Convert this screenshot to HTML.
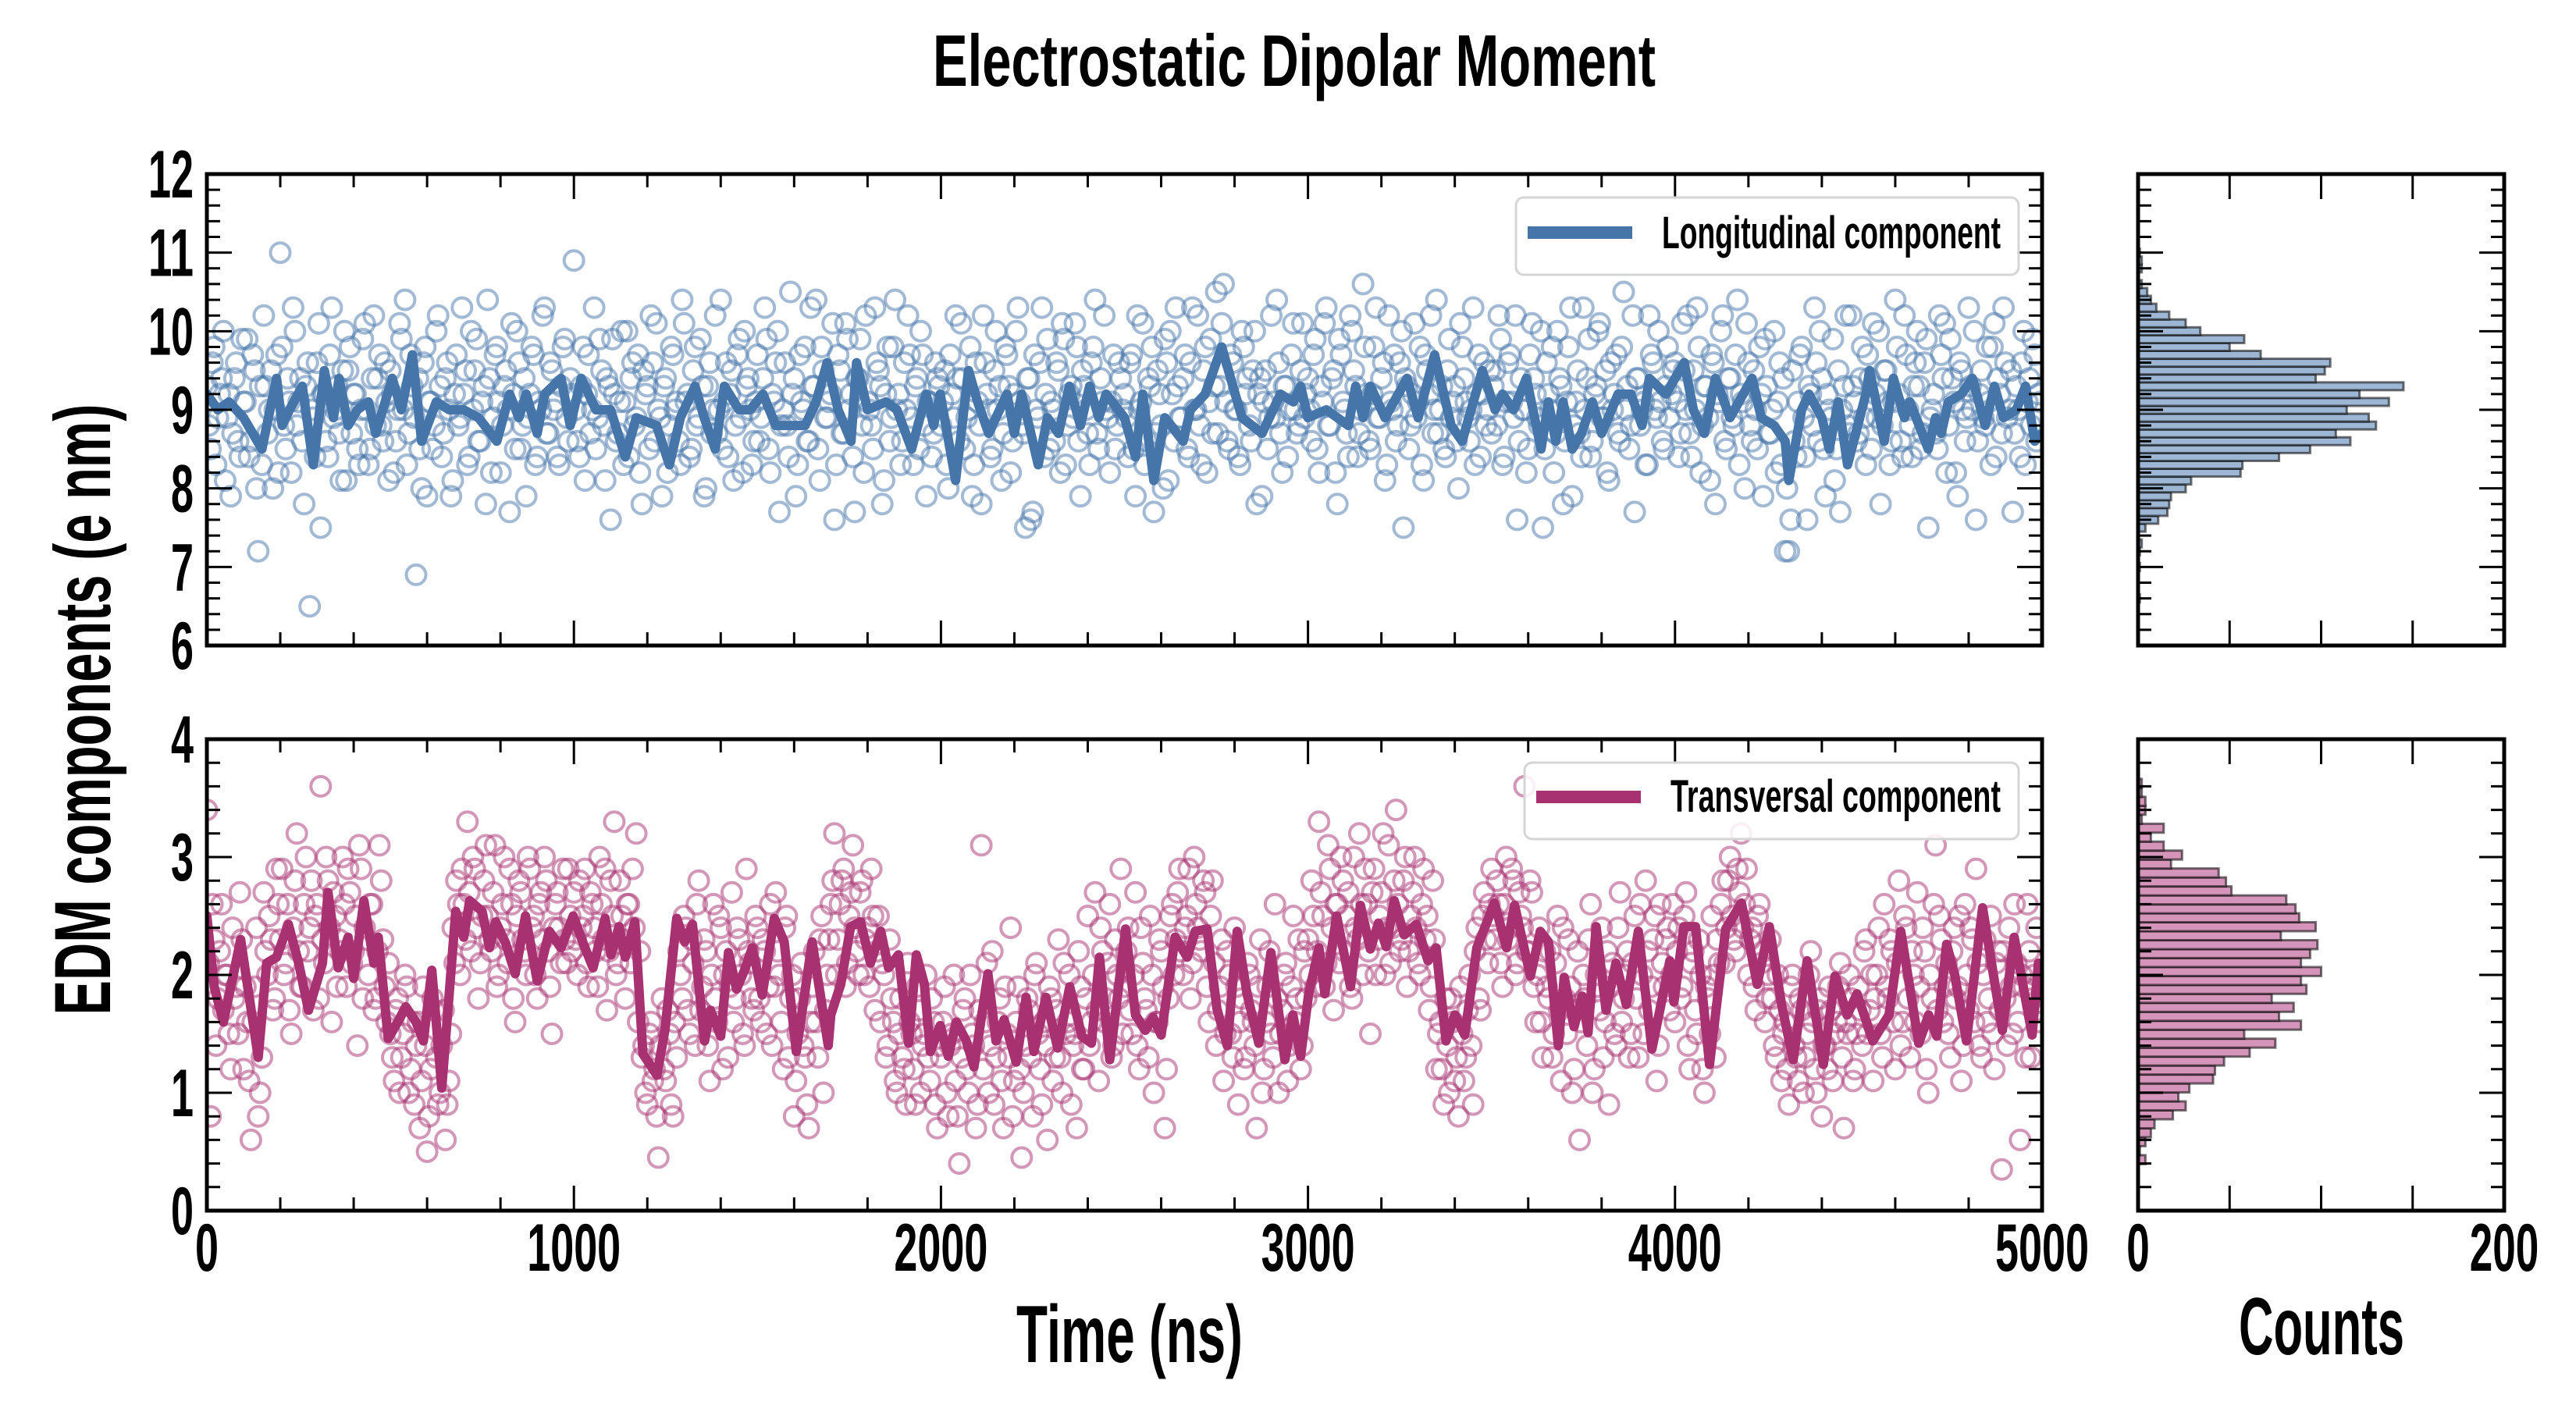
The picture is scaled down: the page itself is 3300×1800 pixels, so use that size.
<!DOCTYPE html>
<html><head><meta charset="utf-8"><title>Electrostatic Dipolar Moment</title>
<style>html,body{margin:0;padding:0;background:#fff;}svg{display:block;}
text{font-family:"Liberation Sans Narrow","Liberation Sans","DejaVu Sans Condensed",sans-serif;font-weight:bold;fill:#000;}</style>
</head><body>
<svg id="chart" xmlns="http://www.w3.org/2000/svg" width="3300" height="1800" viewBox="0 0 3300 1800">
<rect x="0" y="0" width="3300" height="1800" fill="#fff"/>
<defs>
<clipPath id="clipTop"><rect x="265" y="223" width="2351" height="604"/></clipPath>
<clipPath id="clipBot"><rect x="265" y="947" width="2351" height="604"/></clipPath>
</defs>
<g id="layer"></g>
</svg>
<script>
// ---------- data ----------
const timeMax = 5000;
const scatterStep = 10;
const scatterOffset2 = 5;
const longScatter = [
9.3,8.5,9.8,8.9,9.4,8.1,9.2,8.7,9.6,8.4,9.1,9.9,8.6,9.5,7.2,8.3,9.3,9.0,8.0,9.7,11.0,8.8,9.4,8.2,10.0,9.1,8.6,9.3,6.5,8.9,9.6,7.5,9.2,8.4,10.3,9.0,8.7,9.5,8.1,9.8,9.2,8.5,9.0,10.1,8.3,9.4,8.8,9.7,8.6,9.1,
9.5,8.2,9.0,9.9,10.4,8.7,9.3,6.9,8.5,9.6,7.9,9.1,8.8,10.2,8.4,9.4,9.0,8.1,9.7,8.9,9.2,8.3,10.0,9.5,8.6,9.1,7.8,9.4,8.9,9.8,8.2,9.3,9.0,10.1,8.5,9.6,8.8,7.9,9.2,9.7,8.4,9.0,10.3,8.7,9.5,9.1,8.3,9.8,8.9,9.4,
10.9,8.6,9.3,8.1,9.7,9.0,8.5,9.9,8.8,9.4,7.6,9.2,8.7,10.0,9.1,8.4,9.6,8.9,8.2,9.5,9.3,10.2,8.6,9.0,7.9,9.4,8.8,9.7,9.1,8.3,10.1,9.2,8.5,9.8,8.9,9.3,8.0,9.6,9.0,8.7,10.4,9.1,8.4,9.5,8.8,9.9,8.2,9.3,9.0,8.6,
9.7,8.9,10.3,8.5,9.2,9.6,7.7,9.0,8.8,10.5,9.4,8.3,9.1,9.8,8.6,9.3,10.4,8.1,9.5,8.9,9.2,7.6,9.7,8.7,10.1,9.0,8.4,9.4,9.9,8.2,9.1,8.8,10.3,9.5,7.8,9.2,8.6,9.8,9.0,8.3,9.6,10.2,8.9,9.3,8.5,9.7,7.9,9.1,8.7,9.4,
8.8,9.5,8.0,9.2,10.2,8.6,9.4,8.9,9.8,8.3,9.1,7.8,9.6,9.0,8.5,10.0,9.3,8.7,9.7,8.2,9.2,10.3,8.8,7.5,9.4,7.7,9.0,9.6,8.4,9.9,9.1,8.6,9.5,10.1,8.3,9.2,8.9,9.8,7.9,9.3,8.7,9.6,10.4,8.5,9.1,9.0,8.2,9.7,8.8,9.4,
9.2,8.4,9.7,7.9,9.0,10.1,8.6,9.3,7.7,9.5,8.8,9.9,8.1,9.2,10.3,8.9,9.4,8.5,9.6,9.0,10.2,8.3,9.8,9.1,8.7,10.5,9.3,10.6,8.6,9.7,9.0,8.4,10.0,9.2,8.8,9.5,7.8,9.4,9.1,8.5,10.2,8.9,9.6,8.2,9.3,9.0,10.1,8.7,9.5,8.9,
9.4,8.6,9.9,8.2,9.1,10.3,8.8,9.5,7.8,9.7,9.0,8.4,10.0,9.3,8.7,10.6,9.2,8.5,9.8,8.9,9.4,8.1,10.2,9.0,8.6,9.6,7.5,9.3,8.8,10.1,9.1,8.3,9.7,9.2,8.7,10.4,9.0,8.5,9.5,8.9,9.3,8.0,9.8,9.1,8.6,10.3,9.2,8.4,9.6,9.0,
8.7,9.5,10.2,8.3,9.1,9.7,8.9,7.6,9.4,9.0,8.5,10.1,9.2,8.8,7.5,9.6,9.0,8.2,10.0,9.3,8.6,9.8,7.9,9.1,8.7,10.3,9.4,8.4,9.2,10.0,8.9,9.5,8.1,9.0,9.7,8.6,10.5,9.3,8.8,7.7,9.4,9.0,8.3,10.2,9.6,8.9,9.1,8.5,9.8,9.2,
9.6,8.4,10.1,9.0,8.7,9.5,10.3,8.2,9.3,8.9,9.7,7.8,9.1,10.2,8.5,9.4,8.8,10.4,9.2,8.0,9.6,8.6,9.0,9.8,7.9,9.3,8.7,10.0,9.1,8.3,7.2,7.2,9.5,8.4,9.7,8.9,7.6,9.2,10.3,8.6,9.4,7.9,9.0,9.9,8.5,7.7,9.3,8.8,10.2,9.1,
8.7,9.8,8.3,9.4,10.1,8.9,7.8,9.5,9.1,8.6,10.4,9.2,8.4,9.7,8.8,9.3,10.0,8.5,9.6,7.5,9.0,8.7,10.2,9.4,8.2,9.9,9.1,7.9,9.5,8.6,10.3,9.0,7.6,9.2,8.9,9.8,8.3,10.1,9.4,8.7,9.6,9.0,7.7,9.3,8.4,10.0,9.1,8.8,9.7,9.2];
const longScatter2 = [
8.8,9.6,8.3,9.2,10.0,8.9,7.9,9.4,8.6,9.9,9.1,8.4,9.7,8.0,9.3,10.2,8.7,9.5,9.0,8.2,9.8,8.5,9.1,10.3,8.8,9.4,7.8,9.6,9.0,8.4,10.1,9.2,8.6,9.7,8.9,9.3,8.1,10.0,9.5,8.7,9.2,8.3,9.9,9.0,8.5,10.2,9.4,8.8,9.6,8.1,
9.2,8.6,10.1,9.0,8.3,9.7,8.9,9.4,8.0,9.8,9.1,8.5,10.0,9.3,8.7,9.6,7.9,9.2,8.8,10.3,9.5,8.4,9.0,9.9,8.6,9.3,10.4,8.2,9.7,9.1,8.8,9.5,7.7,9.2,10.0,8.5,9.4,8.9,9.8,8.3,9.1,10.2,8.7,9.6,9.0,8.4,9.3,9.9,8.6,9.2,
9.0,8.4,9.8,9.2,8.7,10.3,8.9,9.5,8.1,9.3,9.9,8.6,9.1,8.3,10.0,9.4,8.8,9.7,7.8,9.2,8.5,9.6,10.1,8.9,9.3,8.2,9.8,9.0,8.6,10.4,9.1,8.4,9.5,8.8,9.9,7.9,9.3,8.7,10.2,9.0,8.5,9.6,9.2,8.1,9.7,8.9,10.0,9.4,8.3,9.1,
8.6,9.4,9.9,8.2,9.1,10.0,8.8,9.6,8.4,9.2,7.9,9.7,9.0,8.6,10.3,9.3,8.5,9.8,8.9,9.1,10.1,8.3,9.5,8.7,9.9,9.2,7.7,9.4,8.8,10.2,9.0,8.5,9.6,9.3,8.1,9.8,8.9,10.4,9.2,8.6,9.0,9.7,8.3,9.4,10.0,8.8,9.1,8.4,9.6,9.3,
9.1,8.3,9.7,8.9,9.4,10.1,8.5,9.0,7.9,9.6,8.8,10.2,9.2,8.4,9.5,9.0,8.1,9.8,9.3,8.6,10.0,9.1,8.7,9.4,7.6,9.7,8.9,10.3,9.2,8.5,9.0,9.6,8.2,9.9,8.8,9.3,10.1,8.6,9.5,9.0,8.3,9.8,8.7,9.4,10.2,8.9,9.1,8.5,9.6,9.0,
8.9,9.6,8.5,10.2,9.1,8.3,9.4,9.8,8.7,9.2,8.0,9.6,10.0,8.6,9.3,8.9,9.7,8.4,10.3,9.0,8.8,9.5,8.2,9.9,9.3,8.7,10.1,9.1,8.5,9.6,9.0,8.3,9.8,9.4,8.6,10.0,9.2,7.9,9.5,8.9,9.1,10.4,8.7,9.3,8.4,9.7,9.0,8.8,10.1,9.2,
9.0,9.7,8.5,9.3,10.1,8.8,9.4,8.2,9.9,9.1,8.7,10.2,9.5,8.4,9.0,9.8,8.6,9.2,10.3,8.9,9.6,8.3,9.1,9.7,8.8,10.0,9.4,8.5,9.2,8.9,9.8,8.1,9.5,10.2,9.0,8.7,9.3,8.4,9.9,9.1,8.6,10.1,9.4,8.9,9.0,8.3,9.7,9.2,8.8,9.5,
9.3,8.8,9.9,8.4,9.6,9.1,10.2,8.6,9.0,8.2,9.7,9.4,8.9,10.0,8.5,9.2,9.8,8.7,9.4,7.8,9.1,10.3,8.8,9.5,8.4,9.0,9.9,8.6,9.3,10.1,8.9,8.2,9.6,9.2,8.7,9.8,9.0,8.5,10.2,9.4,8.8,9.1,8.3,9.7,9.0,10.0,8.6,9.3,8.9,9.5,
9.1,8.7,9.5,10.2,8.4,9.0,9.8,8.8,9.3,8.1,9.6,9.2,10.0,8.6,9.4,8.9,9.7,8.3,9.1,10.1,8.8,9.5,8.5,9.2,9.9,8.7,9.0,8.2,9.6,9.4,8.0,7.6,8.6,9.1,9.8,8.4,9.3,8.8,9.6,10.0,8.5,9.2,8.9,8.1,9.5,9.0,10.2,8.7,9.3,8.6,
9.4,8.9,9.7,8.5,9.2,10.0,8.8,9.5,8.3,9.1,9.8,8.6,10.2,9.0,8.4,9.6,9.3,8.7,9.9,8.9,9.2,8.5,9.7,10.1,8.8,9.4,8.2,9.6,9.0,8.9,9.3,10.0,8.6,9.5,8.8,9.1,9.8,8.4,9.2,10.3,8.9,9.5,8.7,9.0,9.6,8.3,9.4,9.9,8.6,9.1];
const transScatter = [
3.4,0.8,2.3,1.8,2.6,2.0,1.5,2.4,1.9,2.7,1.2,1.6,0.6,1.9,0.8,1.3,2.2,2.5,1.7,2.9,2.3,2.0,2.6,1.5,2.8,2.2,1.9,3.0,2.4,1.7,2.6,3.6,2.1,2.8,1.6,2.5,2.3,3.0,1.9,2.7,2.2,1.4,2.9,2.4,2.0,2.6,1.8,3.1,2.3,1.6,
1.5,1.1,1.8,1.3,2.0,1.0,1.6,1.4,0.7,1.9,0.5,1.2,1.7,0.9,1.4,0.6,1.1,2.4,2.8,2.0,2.6,3.3,2.2,2.9,1.8,2.5,3.1,2.3,2.7,1.9,2.4,3.0,2.1,2.6,1.6,2.8,2.3,2.0,2.9,2.5,1.8,2.7,3.0,2.2,1.5,2.6,2.4,2.9,2.1,2.5,
2.7,2.0,2.4,2.9,1.9,2.6,2.2,3.0,2.3,1.7,2.8,3.3,2.1,2.5,1.8,2.6,2.9,3.2,2.2,1.4,0.9,1.6,1.2,0.45,1.8,1.1,1.5,0.8,1.3,2.0,2.5,1.7,2.3,1.4,2.8,1.9,2.2,1.1,2.6,1.6,2.4,2.0,1.3,2.7,1.8,2.3,1.5,2.9,2.1,1.7,
2.4,1.6,2.2,1.9,1.4,2.7,2.0,1.2,2.5,1.8,0.8,1.5,2.1,1.3,0.7,1.9,1.6,2.3,1.0,2.0,2.6,3.2,2.3,2.8,1.9,2.5,3.1,2.2,2.7,2.0,2.4,2.9,1.7,2.5,2.1,1.3,2.3,1.6,1.0,1.8,1.2,2.1,1.5,0.9,1.7,1.4,2.0,1.1,1.6,0.7,
1.3,1.9,0.8,1.5,1.1,0.4,1.7,1.2,2.0,1.4,0.9,3.1,1.6,1.0,2.2,1.3,1.8,0.7,1.5,2.4,1.1,1.9,0.45,1.4,1.7,0.8,2.1,1.2,1.6,0.6,1.8,1.3,2.3,1.0,1.5,2.0,1.4,0.7,1.9,1.2,2.5,1.6,2.7,1.1,2.2,1.8,2.6,1.4,2.0,2.9,
1.9,2.4,1.5,2.7,1.2,2.1,1.7,2.5,1.0,1.6,2.2,0.7,1.8,2.6,2.3,2.9,2.0,2.5,1.8,3.0,2.4,2.2,2.7,1.6,2.8,1.4,1.9,1.1,2.2,1.5,2.4,0.9,1.8,1.3,2.0,1.6,0.7,2.3,1.2,1.9,1.5,2.6,1.0,1.7,2.1,1.4,2.5,1.8,1.2,2.2,
2.3,2.8,1.9,3.3,2.5,2.1,2.9,1.7,2.6,3.0,2.2,2.7,1.8,2.4,3.2,2.0,2.6,1.5,2.9,2.3,2.7,2.0,3.1,2.4,3.4,2.2,2.8,1.9,2.5,3.0,2.1,2.6,2.3,1.7,2.8,1.2,1.6,0.9,1.4,1.8,1.1,0.8,1.5,1.3,2.0,0.9,2.4,1.7,2.7,2.1,
2.9,2.3,2.6,1.9,3.0,2.4,2.8,2.1,2.5,3.6,2.2,2.7,1.6,2.4,1.3,1.9,2.2,1.5,2.5,1.1,1.8,2.3,1.0,1.7,0.6,2.0,1.4,2.6,1.2,1.9,2.4,1.6,0.9,2.1,1.4,2.7,1.8,2.2,1.5,2.5,1.3,2.0,2.8,1.7,2.3,1.1,2.6,1.9,2.4,2.0,
1.6,2.4,1.9,2.7,1.2,2.2,1.5,2.0,1.0,1.8,2.5,1.3,2.1,2.8,2.4,3.0,2.3,2.9,3.2,2.6,2.0,2.4,1.7,2.6,2.2,1.8,2.3,1.4,2.0,1.1,1.6,0.9,2.0,1.3,1.8,1.0,1.5,2.2,1.2,1.7,0.8,1.4,1.9,1.1,1.6,2.1,0.7,1.5,1.8,1.2,
1.9,1.4,2.3,1.7,1.1,2.0,1.5,2.6,1.8,2.2,1.2,2.8,1.6,2.4,1.3,2.0,2.7,1.5,2.2,1.0,1.8,3.1,2.5,1.6,2.1,1.3,2.4,1.9,1.1,2.6,1.7,2.3,2.9,1.4,2.0,1.6,2.5,1.2,2.2,0.35,1.8,2.4,1.5,2.1,0.6,1.9,2.6,1.3,2.0,1.7];
const transScatter2 = [
2.1,2.6,1.4,2.2,1.7,2.0,1.2,1.8,1.5,2.3,1.9,1.1,1.6,2.4,1.0,2.7,2.0,2.3,1.8,2.6,2.9,2.1,1.7,2.4,3.2,1.9,2.6,2.2,2.8,2.5,1.8,2.3,3.0,2.4,2.7,1.9,2.2,2.6,2.9,2.1,2.5,3.1,1.8,2.3,2.6,1.7,2.2,2.8,1.9,2.1,
1.3,1.7,1.0,1.5,1.9,1.2,0.9,1.6,1.1,1.4,0.8,1.8,1.3,1.0,1.7,0.9,1.5,2.1,2.6,2.9,2.3,2.7,3.0,2.4,2.1,2.8,2.5,2.2,3.1,2.0,2.6,2.3,2.9,1.8,2.5,2.7,2.2,3.0,2.4,2.0,2.6,2.3,2.8,1.9,2.4,2.7,2.1,2.3,2.9,2.2,
2.3,2.8,2.5,2.1,2.7,2.4,1.9,2.6,2.9,2.2,2.5,2.0,2.8,2.3,2.6,2.1,2.4,1.6,1.3,1.0,1.5,1.1,0.8,1.4,1.2,1.7,0.9,1.6,2.2,1.8,2.4,1.5,2.1,2.6,1.7,2.3,1.4,2.0,1.8,2.5,1.2,2.2,1.9,1.6,2.4,2.0,1.4,2.2,1.8,2.5,
1.8,2.3,1.5,2.6,1.9,2.2,1.6,2.4,1.3,2.0,1.1,1.8,1.4,0.9,1.6,2.2,1.3,2.5,1.7,2.3,2.8,2.0,2.6,2.9,2.1,2.7,2.4,2.0,2.8,2.3,1.9,2.5,2.2,1.6,2.0,1.4,1.8,1.1,1.5,1.3,0.9,1.6,1.2,1.9,1.0,1.5,1.3,1.8,0.9,1.4,
1.6,1.0,1.4,2.0,0.8,1.3,1.8,1.0,1.5,0.7,1.7,1.2,2.1,1.4,0.9,1.6,1.1,1.9,1.3,0.8,1.6,1.2,1.0,1.8,1.3,2.0,1.5,0.9,1.4,1.9,1.1,1.7,1.3,2.1,1.6,0.9,1.5,2.2,1.2,1.8,1.4,2.0,1.7,2.4,1.6,2.1,1.3,2.3,1.8,1.5,
2.2,1.7,2.0,1.4,2.4,1.8,1.3,2.0,1.6,2.3,1.9,1.2,2.5,2.0,2.7,2.2,2.4,2.9,2.1,2.6,2.3,2.8,1.9,2.5,2.1,1.7,2.3,1.5,2.0,1.3,1.9,1.6,1.2,2.1,1.7,1.4,1.9,1.0,1.6,2.2,1.3,1.8,1.5,2.0,1.1,1.9,1.6,2.3,1.4,1.8,
2.0,2.5,2.2,2.7,1.9,3.1,2.4,2.6,2.1,2.8,2.5,1.9,3.0,2.3,2.6,2.9,2.2,2.7,2.0,2.5,3.2,2.4,2.1,2.8,2.6,2.3,3.0,2.2,2.7,2.4,2.0,2.9,2.5,1.9,2.3,1.5,1.2,1.8,1.0,1.6,1.3,1.9,1.1,1.7,1.4,2.2,1.8,2.5,2.3,2.6,
2.5,2.8,2.1,2.6,2.3,2.9,2.0,2.7,2.4,2.2,2.8,1.9,2.0,1.6,2.2,1.8,1.3,2.1,1.7,2.4,1.5,1.9,1.2,2.2,1.6,1.8,2.3,1.0,2.0,1.7,1.3,2.2,1.9,1.5,2.4,1.6,2.0,1.3,2.1,1.8,2.6,1.5,2.2,1.9,2.5,1.4,2.1,2.3,1.7,2.6,
2.2,1.8,2.5,1.4,2.1,1.7,2.3,1.2,1.9,1.5,2.0,2.3,2.6,2.1,2.8,2.5,2.2,2.7,2.4,2.9,2.3,1.9,2.5,2.1,1.6,2.0,1.8,1.3,1.7,1.5,1.2,1.9,1.4,1.1,1.7,1.3,2.0,1.6,1.0,1.8,1.4,1.2,1.7,1.5,1.9,1.3,1.6,2.0,1.1,1.5,
1.7,2.2,1.5,2.0,1.8,2.4,1.3,1.9,2.3,1.6,2.1,1.4,2.5,1.8,2.2,1.6,1.9,2.4,1.2,2.0,2.6,1.7,2.3,1.9,1.5,2.2,1.8,2.5,1.4,2.0,2.4,1.6,2.1,1.3,2.3,1.8,1.5,2.1,1.7,2.2,1.4,1.9,2.6,1.6,2.0,1.3,2.2,1.8,2.4,1.6];
const longLineT = [0,30,60,100,150,190,205,225,260,290,320,345,360,385,410,440,460,505,530,560,585,625,660,700,740,790,825,850,870,900,920,965,990,1020,1060,1100,1140,1170,1225,1260,1290,1330,1355,1385,1410,1450,1480,1515,1550,1630,1660,1690,1720,1755,1770,1800,1850,1880,1920,1960,1980,1998,2040,2075,2100,2130,2180,2200,2220,2265,2290,2320,2350,2380,2405,2430,2450,2500,2530,2550,2580,2610,2660,2680,2720,2765,2820,2875,2925,2960,2980,3000,3050,3110,3130,3150,3170,3210,3270,3300,3345,3390,3420,3475,3510,3530,3560,3595,3635,3655,3675,3695,3720,3745,3775,3800,3845,3880,3910,3930,3975,4025,4050,4080,4110,4150,4210,4235,4270,4300,4310,4345,4365,4400,4420,4445,4470,4520,4530,4570,4595,4625,4640,4690,4710,4725,4745,4780,4810,4845,4870,4895,4930,4955,4980,5000];
const longLineV = [9.2,9.0,9.1,8.9,8.5,9.4,8.8,9.0,9.3,8.3,9.5,8.9,9.4,8.8,9.0,9.1,8.7,9.4,9.0,9.7,8.6,9.1,9.0,9.0,8.9,8.6,9.2,8.9,9.2,8.7,9.2,9.4,8.8,9.4,9.0,9.0,8.4,8.9,8.8,8.3,8.9,9.3,8.9,8.5,9.3,9.0,9.0,9.2,8.8,8.8,9.1,9.6,9.0,8.6,9.6,9.0,9.1,9.0,8.5,9.2,8.8,9.2,8.1,9.5,9.1,8.7,9.2,8.7,9.2,8.3,8.9,8.7,9.3,8.8,9.3,8.9,9.2,8.9,8.4,9.2,8.1,8.9,8.6,9.0,9.2,9.8,8.9,8.7,9.2,9.1,9.3,8.9,9.0,8.8,9.3,8.9,9.3,8.9,9.4,8.9,9.7,8.8,8.6,9.5,9.0,9.2,9.0,9.4,8.5,9.1,8.6,9.1,8.5,8.7,9.1,8.7,9.2,9.2,8.8,9.4,9.2,9.6,9.0,8.7,9.4,8.9,9.4,8.9,8.8,8.6,8.1,9.0,9.2,8.9,8.5,9.1,8.3,9.2,9.5,8.6,9.4,8.9,9.1,8.5,8.9,8.7,9.1,9.2,9.4,8.8,9.3,8.9,9.0,9.3,8.6,8.7];
const transLineT = [0,20,45,92,140,163,190,222,250,277,315,330,358,385,400,428,455,467,494,520,542,570,590,613,640,678,700,716,750,770,787,814,840,868,900,933,965,998,1025,1052,1085,1101,1123,1140,1166,1188,1226,1248,1280,1302,1323,1356,1372,1400,1421,1443,1465,1486,1513,1546,1573,1606,1649,1693,1700,1727,1754,1781,1808,1836,1857,1884,1912,1933,1955,1971,1998,2020,2042,2069,2090,2128,2150,2172,2205,2232,2253,2286,2318,2351,2384,2410,2432,2460,2503,2530,2557,2578,2600,2638,2671,2693,2725,2752,2780,2807,2834,2866,2899,2937,2959,2980,3002,3030,3046,3078,3116,3143,3170,3192,3213,3235,3262,3295,3327,3349,3376,3400,3427,3460,3508,3541,3563,3606,3633,3655,3682,3698,3725,3747,3763,3785,3812,3839,3867,3900,3937,3986,3997,4024,4056,4094,4138,4181,4224,4257,4290,4322,4360,4404,4436,4469,4496,4539,4583,4615,4664,4691,4713,4740,4762,4794,4838,4892,4924,4973,4990,5000];
const transLineV = [2.5,1.9,1.6,2.3,1.3,2.1,2.15,2.43,2.1,1.7,2.1,2.7,2.06,2.32,1.97,2.63,2.1,2.32,1.46,1.6,1.73,1.6,1.44,2.04,1.04,2.54,2.32,2.63,2.54,2.23,2.45,2.27,2.01,2.5,1.95,2.37,2.23,2.5,2.27,2.06,2.48,2.17,2.41,2.15,2.45,1.33,1.15,1.53,2.48,2.28,2.43,1.44,1.7,1.48,2.19,1.88,2.04,2.23,1.83,2.48,2.28,1.35,2.28,1.40,1.66,1.92,2.41,2.45,2.1,2.37,2.06,2.17,1.42,2.17,1.92,1.35,1.57,1.31,1.6,1.44,1.22,2.01,1.44,1.62,1.26,1.81,1.35,1.81,1.38,1.9,1.48,1.42,2.15,1.28,2.39,1.66,1.53,1.64,1.49,2.32,2.15,2.37,2.39,1.71,1.4,2.37,1.84,1.42,2.19,1.28,1.66,1.31,1.84,2.23,1.84,2.5,1.9,2.59,2.22,2.44,2.24,2.63,2.34,2.43,2.12,2.23,1.44,1.66,1.49,2.23,2.61,2.23,2.59,1.99,2.37,2.28,1.4,1.98,1.56,1.82,1.51,2.41,1.7,2.1,1.75,2.37,1.37,2.12,1.77,2.41,2.41,1.24,2.39,2.61,1.92,2.41,1.75,1.28,2.12,1.24,1.99,1.66,1.84,1.44,1.66,2.37,1.42,1.66,1.48,2.26,2.0,1.44,2.57,1.53,2.32,1.49,2.1,1.9];
const longHistStart = 6.55;
const longHistWidth = 0.1;
const longHistCounts = [1,0,0,0,1,0,1,2,0,4,11,16,17,18,26,29,56,57,77,94,116,108,130,126,114,137,121,145,97,102,105,67,50,58,34,26,17,10,7,5,2,0,2,2,1];
const transHistStart = 0.395;
const transHistWidth = 0.076;
const transHistCounts = [4,1,4,7,9,19,26,22,28,41,42,47,61,75,58,89,77,85,73,92,89,100,89,94,98,78,97,88,86,81,51,48,44,18,24,14,7,14,2,4,4,2,2];
const xTickLabels = ["0","1000","2000","3000","4000","5000"];
const topYTickLabels = ["6","7","8","9","10","11","12"];
const botYTickLabels = ["0","1","2","3","4"];
const histXTickLabels = ["0","200"];

// ---------- geometry ----------
const NS = "http://www.w3.org/2000/svg";
const L = 265, R = 2616, HL = 2739, HR = 3208;
const TT = 223, TB = 827, BT = 947, BB = 1551;
const BLUE = "#4575a9", PINK = "#a83171";
function xS(t){ return L + t / timeMax * (R - L); }
function yTop(v){ return TB - (v - 6) / 6 * (TB - TT); }
function yBot(v){ return BB - v / 4 * (BB - BT); }
function hx(c){ return HL + c / 200 * (HR - HL); }
const layer = document.getElementById("layer");
function mk(tag, attrs, parent){
  const e = document.createElementNS(NS, tag);
  for (const k in attrs) e.setAttribute(k, attrs[k]);
  (parent || layer).appendChild(e);
  return e;
}
function label(x, y, s, size, anchor, len, parent){
  const e = mk("text", {x:x, y:y, "font-size":size, "text-anchor":anchor, textLength:len, lengthAdjust:"spacingAndGlyphs"}, parent);
  e.textContent = s;
  return e;
}

// ---------- title ----------
const title = label(1658, 110, "Electrostatic Dipolar Moment", 94, "middle", 926);



// ---------- scatter & lines ----------
function drawPoints(g, vals, offset, yf, color, nm){
  vals.forEach(function(v, i){
    const c = mk("circle", {cx:xS(offset + i * scatterStep).toFixed(1), cy:yf(v).toFixed(1), r:12.5, fill:"none", stroke:color, "stroke-opacity":0.5, "stroke-width":4}, g);
    
    
  });
}
function drawPanel(vals, vals2, lineT, lineV, yf, color, clip, nm){
  const g = mk("g", {"clip-path":"url(#" + clip + ")"});
  
  
  drawPoints(g, vals, 0, yf, color, nm);
  drawPoints(g, vals2, scatterOffset2, yf, color, nm);
  let d = "";
  lineT.forEach(function(t, i){ d += (i ? "L" : "M") + xS(t).toFixed(1) + "," + yf(lineV[i]).toFixed(1); });
  const p = mk("path", {d:d, fill:"none", stroke:color, "stroke-width":12, "stroke-linejoin":"round", "stroke-linecap":"round"}, g);
  
  
}
drawPanel(longScatter, longScatter2, longLineT, longLineV, yTop, BLUE, "clipTop", "longitudinal");
drawPanel(transScatter, transScatter2, transLineT, transLineV, yBot, PINK, "clipBot", "transversal");

// ---------- histograms ----------
function drawHist(counts, start, width, yf, fill, nm){
  const g = mk("g", {});
  
  
  counts.forEach(function(c, i){
    const y1 = yf(start + (i + 1) * width), y0 = yf(start + i * width);
    const b = mk("rect", {x:HL, y:y1.toFixed(1), width:Math.max(0, hx(c) - HL).toFixed(1), height:(y0 - y1).toFixed(1), fill:fill, stroke:"rgba(0,0,0,0.55)", "stroke-width":3}, g);
    
    
  });
}
drawHist(longHistCounts, longHistStart, longHistWidth, yTop, "#9db6d3", "longitudinal");
drawHist(transHistCounts, transHistStart, transHistWidth, yBot, "#d595bb", "transversal");

// ---------- axes frames & ticks ----------
function frame(x0, y0, x1, y1, nm){
  const r = mk("rect", {x:x0, y:y0, width:x1 - x0, height:y1 - y0, fill:"none", stroke:"#000", "stroke-width":5});
  
  
}
function tickLine(x1, y1, x2, y2){ mk("line", {x1:x1, y1:y1, x2:x2, y2:y2, stroke:"#000", "stroke-width":3}); }
function yTicks(x0, x1, yf, vmin, vmax){
  for (let k = 0; k <= Math.round((vmax - vmin) / 0.2); k++){
    const v = vmin + k * 0.2, y = yf(v), major = Math.abs(v - Math.round(v)) < 1e-6, len = major ? 32 : 17;
    tickLine(x0, y, x0 + len, y); tickLine(x1, y, x1 - len, y);
  }
}
function xTicksMain(y0, y1){
  for (let t = 0; t <= timeMax; t += 200){
    const x = xS(t), len = (t % 1000 === 0) ? 32 : 17;
    tickLine(x, y1, x, y1 - len); tickLine(x, y0, x, y0 + len);
  }
}
function xTicksHist(y0, y1){
  for (let c = 0; c <= 200; c += 50){ const x = hx(c); tickLine(x, y1, x, y1 - 32); tickLine(x, y0, x, y0 + 32); }
}
yTicks(L, R, yTop, 6, 12); xTicksMain(TT, TB); frame(L, TT, R, TB, "longitudinal-axes");
yTicks(L, R, yBot, 0, 4); xTicksMain(BT, BB); frame(L, BT, R, BB, "transversal-axes");
yTicks(HL, HR, yTop, 6, 12); xTicksHist(TT, TB); frame(HL, TT, HR, TB, "longitudinal-hist-axes");
yTicks(HL, HR, yBot, 0, 4); xTicksHist(BT, BB); frame(HL, BT, HR, BB, "transversal-hist-axes");

// ---------- tick labels ----------
topYTickLabels.forEach(function(s){
  const e = label(248, yTop(+s) + 30, s, 86, "end", 29 * s.length);
  
  
});
botYTickLabels.forEach(function(s){
  const e = label(248, yBot(+s) + 30, s, 86, "end", 29 * s.length);
  
  
});
xTickLabels.forEach(function(s){
  const e = label(xS(+s), 1628, s, 86, "middle", 30 * s.length);
  
  
});
histXTickLabels.forEach(function(s){
  const e = label(hx(+s), 1628, s, 86, "middle", 29.5 * s.length);
  
  
});

// ---------- axis titles ----------
const xt = label(1447, 1745, "Time (ns)", 104, "middle", 290);


const ct = label(2974, 1735, "Counts", 104, "middle", 212);


const yt = mk("text", {x:0, y:0, "font-size":102, "text-anchor":"middle", textLength:783, lengthAdjust:"spacingAndGlyphs", transform:"translate(141,909) rotate(-90)"});
yt.textContent = "EDM components (e nm)";



// ---------- legends ----------
function legend(x0, y0, x1, y1, color, txt, lineX0, lineY, textX, textY, nm){
  const g = mk("g", {});
  
  
  mk("rect", {x:x0, y:y0, width:x1 - x0, height:y1 - y0, rx:10, ry:10, fill:"rgba(255,255,255,0.85)", stroke:"#d5d5d5", "stroke-width":3}, g);
  const ln = mk("line", {x1:lineX0, y1:lineY, x2:lineX0 + 134, y2:lineY, stroke:color, "stroke-width":16}, g);
  
  
  const t = label(textX, textY, txt, 58, "start", 2563 - textX, g);
  
  
}
legend(1942, 253, 2586, 352, BLUE, "Longitudinal component", 1957, 298, 2129, 318, "longitudinal");
legend(1953, 977, 2586, 1075, PINK, "Transversal component", 1968, 1021, 2140, 1040, "transversal");
</script>
</body></html>
